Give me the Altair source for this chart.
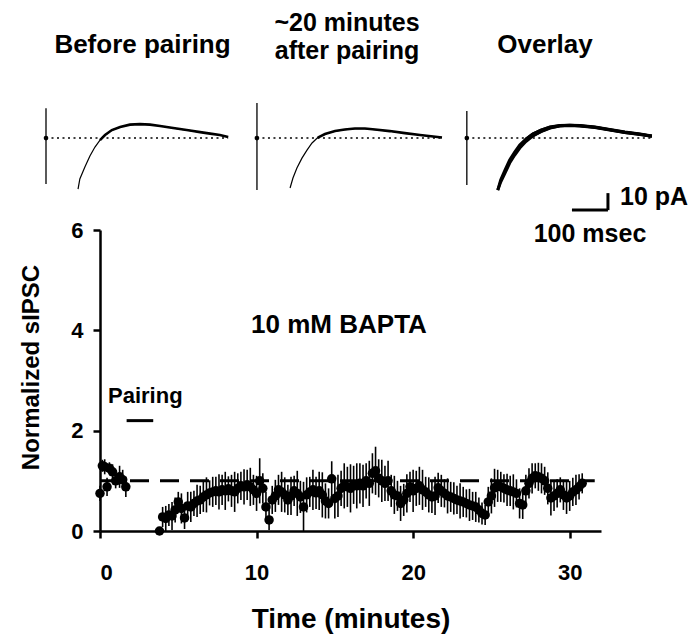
import altair as alt
import pandas as pd

FONT = "Liberation Sans"

# ---------------- summary data: time (min), normalized sIPSC, error ----------------
PRE_T = [0.0, 0.15, 0.3, 0.45, 0.6, 0.8, 1.0, 1.25, 1.45, 1.65]
PRE_V = [0.75, 1.30, 1.28, 0.88, 1.25, 1.18, 1.00, 1.08, 1.02, 0.88]
PRE_E = [0.15, 0.12, 0.15, 0.18, 0.12, 0.15, 0.15, 0.22, 0.20, 0.20]

POST_T = [
    3.8, 4.0, 4.2, 4.4, 4.6, 4.8, 5.0, 5.2, 5.4, 5.6,
    5.8, 6.0, 6.2, 6.4, 6.6, 6.8, 7.0, 7.2, 7.4, 7.6,
    7.8, 8.0, 8.2, 8.4, 8.6, 8.8, 9.0, 9.2, 9.4, 9.6,
    9.8, 10.0, 10.2, 10.4, 10.6, 10.8, 11.0, 11.2, 11.4, 11.6,
    11.8, 12.0, 12.2, 12.4, 12.6, 12.8, 13.0, 13.2, 13.4, 13.6,
    13.8, 14.0, 14.2, 14.4, 14.6, 14.8, 15.0, 15.2, 15.4, 15.6,
    15.8, 16.0, 16.2, 16.4, 16.6, 16.8, 17.0, 17.2, 17.4, 17.6,
    17.8, 18.0, 18.2, 18.4, 18.6, 18.8, 19.0, 19.2, 19.4, 19.6,
    19.8, 20.0, 20.2, 20.4, 20.6, 20.8, 21.0, 21.2, 21.4, 21.6,
    21.8, 22.0, 22.2, 22.4, 22.6, 22.8, 23.0, 23.2, 23.4, 23.6,
    23.8, 24.0, 24.2, 24.4, 24.6, 24.8, 25.0, 25.2, 25.4, 25.6,
    25.8, 26.0, 26.2, 26.4, 26.6, 26.8, 27.0, 27.2, 27.4, 27.6,
    27.8, 28.0, 28.2, 28.4, 28.6, 28.8, 29.0, 29.2, 29.4, 29.6,
    29.8, 30.0, 30.2, 30.4, 30.6, 30.8,
]
POST_V = [
    0.00, 0.28, 0.25, 0.32, 0.30, 0.42, 0.58, 0.45, 0.26, 0.50,
    0.48, 0.55, 0.60, 0.62, 0.68, 0.72, 0.76, 0.78, 0.80, 0.78,
    0.82, 0.80, 0.84, 0.80, 0.78, 0.85, 0.90, 0.88, 0.92, 0.88,
    0.82, 0.75, 1.00, 0.85, 0.48, 0.22, 0.62, 0.70, 0.82, 0.78,
    0.72, 0.62, 0.70, 0.80, 0.75, 0.68, 0.48, 0.72, 0.78, 0.82,
    0.76, 0.80, 0.72, 0.60, 0.55, 1.04, 0.65, 0.70, 0.85, 0.90,
    0.88, 0.85, 0.92, 0.90, 0.95, 0.90, 1.00, 0.95, 1.15, 1.20,
    1.05, 1.00, 0.95, 1.00, 0.80, 0.72, 0.70, 0.55, 0.62, 0.75,
    0.88, 0.80, 0.85, 0.90, 0.82, 0.78, 0.72, 0.68, 0.70, 0.86,
    0.80, 0.75, 0.70, 0.68, 0.65, 0.62, 0.60, 0.58, 0.55, 0.52,
    0.50, 0.48, 0.42, 0.35, 0.32, 0.58, 0.70, 0.86, 0.90, 0.88,
    0.85, 0.82, 0.80, 0.78, 0.75, 0.55, 0.52, 0.80, 0.95, 1.05,
    1.10, 1.08, 1.05, 1.00, 0.85, 0.66, 0.70, 0.75, 0.82, 0.72,
    0.66, 0.70, 0.78, 0.82, 0.88, 0.95,
]
POST_E = [
    0.05, 0.20, 0.25, 0.22, 0.28, 0.25, 0.20, 0.30, 0.22, 0.28,
    0.30, 0.25, 0.32, 0.28, 0.30, 0.35, 0.25, 0.30, 0.28, 0.35,
    0.30, 0.38, 0.25, 0.32, 0.40, 0.30, 0.28, 0.35, 0.30, 0.38,
    0.30, 0.35, 0.45, 0.30, 0.30, 0.20, 0.28, 0.32, 0.30, 0.40,
    0.35, 0.30, 0.38, 0.30, 0.45, 0.32, 0.50, 0.35, 0.30, 0.40,
    0.32, 0.38, 0.45, 0.35, 0.30, 0.35, 0.40, 0.42, 0.35, 0.45,
    0.40, 0.48, 0.38, 0.45, 0.40, 0.42, 0.35, 0.45, 0.40, 0.48,
    0.38, 0.42, 0.35, 0.40, 0.32, 0.38, 0.30, 0.35, 0.32, 0.38,
    0.30, 0.42, 0.35, 0.38, 0.40, 0.30, 0.35, 0.32, 0.38, 0.30,
    0.32, 0.28, 0.35, 0.30, 0.32, 0.28, 0.35, 0.30, 0.28, 0.32,
    0.28, 0.30, 0.25, 0.22, 0.20, 0.30, 0.35, 0.38, 0.32, 0.30,
    0.28, 0.32, 0.30, 0.35, 0.28, 0.30, 0.28, 0.32, 0.30, 0.30,
    0.25, 0.28, 0.30, 0.28, 0.32, 0.35, 0.30, 0.28, 0.25, 0.30,
    0.32, 0.30, 0.28, 0.30, 0.25, 0.20,
]

BASELINE_LEVEL = 1.0
BASELINE_T = [0.0, 31.6]
PAIRING_T = [1.7, 3.4]
PAIRING_LEVEL = 2.2

X_DOMAIN = [0, 32]
Y_DOMAIN = [0, 6]
X_TICKS = [0, 10, 20, 30]
Y_TICKS = [0, 2, 4, 6]

# ---------------- example sweeps: ms after stimulus, pA from baseline ----------------
BEFORE_MS = [89, 94, 108, 122, 136, 150, 164, 183, 206, 233, 261, 289, 317, 344, 372, 400, 428, 456, 483, 506]
BEFORE_PA = [-30, -24.1, -17.1, -10.6, -5.3, -1.2, 1.8, 4.7, 6.5, 7.9, 8.2, 7.9, 7.1, 6.2, 5.3, 4.4, 3.5, 2.6, 1.8, 0.6]
AFTER_MS = [92, 100, 111, 125, 139, 153, 169, 189, 217, 244, 272, 300, 328, 369, 411, 453, 514]
AFTER_PA = [-29.4, -23.5, -17.6, -11.8, -7.1, -2.9, 0.3, 2.4, 4.1, 5.0, 5.6, 5.6, 5.0, 4.1, 2.9, 1.8, 0.3]
OVERLAY_MS = [86, 94, 106, 119, 133, 147, 164, 183, 206, 231, 258, 286, 314, 356, 397, 439, 481, 514]
OVERLAY_BEFORE_PA = [-30.6, -24.7, -18.8, -12.9, -8.2, -4.1, -0.6, 2.4, 4.7, 6.5, 7.4, 7.6, 7.4, 6.5, 5.0, 3.5, 2.4, 1.2]
OVERLAY_AFTER_PA = [-30.6, -25.9, -20.6, -14.7, -10.0, -5.9, -2.0, 1.2, 3.8, 5.9, 7.1, 7.4, 7.1, 6.2, 4.7, 3.2, 2.1, 1.0]
ARTIFACT_TOP_PA = [17.6, 20.6, 15.9]
ARTIFACT_BOTTOM_PA = [-27.0, -30.6, -27.6]
SWEEP_END_MS = [506, 514, 514]
SCALE_MS = 100
SCALE_PA = 10

# ---------------- layout constants ----------------
PLOT_W, PLOT_H = 501, 301
PAD = {"left": 100, "top": 230, "right": 94, "bottom": 108}
PANEL_OFFSET_MS = [0, 586, 1169]
TRACE_X_DOMAIN = [150, 1541.7]
TRACE_Y_DOMAIN = [-231.2, -54.1]
SCALEBAR_ORIGIN = (1461, -42.4)

# ---------------- tables ----------------
summary = pd.DataFrame({"t": PRE_T + POST_T, "v": PRE_V + POST_V, "e": PRE_E + POST_E})
summary["lo"] = summary["v"] - summary["e"]
summary["hi"] = summary["v"] + summary["e"]

baseline_df = pd.DataFrame({"t0": [BASELINE_T[0]], "t1": [BASELINE_T[1]], "v": [BASELINE_LEVEL]})
pairing_df = pd.DataFrame({"t0": [PAIRING_T[0]], "t1": [PAIRING_T[1]], "v": [PAIRING_LEVEL]})

rows = []
def add_sweep(panel, name, ms, pa):
    for i, (m, p) in enumerate(zip(ms, pa)):
        rows.append({"u": m + PANEL_OFFSET_MS[panel], "pA": p, "sweep": name, "i": i})

add_sweep(0, "before", BEFORE_MS, BEFORE_PA)
add_sweep(1, "after", AFTER_MS, AFTER_PA)
add_sweep(2, "ovl_before", OVERLAY_MS, OVERLAY_BEFORE_PA)
add_sweep(2, "ovl_after", OVERLAY_MS, OVERLAY_AFTER_PA)
sweeps = pd.DataFrame(rows)

panels = pd.DataFrame({
    "u0": PANEL_OFFSET_MS,
    "u1": [o + e for o, e in zip(PANEL_OFFSET_MS, SWEEP_END_MS)],
    "top": ARTIFACT_TOP_PA,
    "bottom": ARTIFACT_BOTTOM_PA,
    "zero": [0, 0, 0],
})

sx, sy = SCALEBAR_ORIGIN
scalebar = pd.DataFrame({
    "u0": [sx, sx + SCALE_MS],
    "u1": [sx + SCALE_MS, sx + SCALE_MS],
    "p0": [sy, sy],
    "p1": [sy, sy + SCALE_PA],
})

# ---------------- encodings ----------------
x_axis = alt.Axis(values=X_TICKS, format="d", title="Time (minutes)", labelPadding=24,
                  titleY=96, titleBaseline="alphabetic", titleFontSize=28)
y_axis = alt.Axis(values=Y_TICKS, format="d", title="Normalized sIPSC", labelPadding=10,
                  titleX=-62, titleY=137, titleAngle=270, titleBaseline="alphabetic",
                  titleAlign="center", titleFontSize=24)
x_scale = alt.Scale(domain=X_DOMAIN, nice=False, zero=False)
y_scale = alt.Scale(domain=Y_DOMAIN, nice=False, zero=False)

def MX(f):
    return alt.X(f, type="quantitative", scale=x_scale, axis=x_axis)

def MY(f):
    return alt.Y(f, type="quantitative", scale=y_scale, axis=y_axis)

tx_scale = alt.Scale(domain=TRACE_X_DOMAIN, nice=False, zero=False)
ty_scale = alt.Scale(domain=TRACE_Y_DOMAIN, nice=False, zero=False)

def TX(f):
    return alt.X(f, type="quantitative", scale=tx_scale, axis=None)

def TY(f):
    return alt.Y(f, type="quantitative", scale=ty_scale, axis=None)

# ---------------- main panel ----------------
dash = alt.Chart(baseline_df).mark_rule(color="black", strokeWidth=3, strokeDash=[19, 11]).encode(
    x=MX("t0"), x2="t1", y=MY("v"))
pair = alt.Chart(pairing_df).mark_rule(color="black", strokeWidth=3).encode(
    x=MX("t0"), x2="t1", y=MY("v"))
err = alt.Chart(summary).mark_rule(color="black", strokeWidth=1.6).encode(
    x=MX("t"), y=MY("lo"), y2="hi")
pts = alt.Chart(summary).mark_circle(color="black", size=90, opacity=1).encode(
    x=MX("t"), y=MY("v"))

def label(text, x, y, size, align="center"):
    return alt.Chart(baseline_df).mark_text(
        font=FONT, fontWeight="bold", fontSize=size, color="black", align=align, baseline="alphabetic"
    ).encode(x=alt.value(x), y=alt.value(y), text=alt.value(text))

main = alt.layer(dash, pair, err, pts,
                 label("10 mM BAPTA", 239, 103, 26),
                 label("Pairing", 8, 173, 22, "left"))

# ---------------- sweeps ----------------
zero_lines = alt.Chart(panels).mark_rule(color="black", strokeWidth=1.5, strokeDash=[2, 3.5]).encode(
    x=TX("u0"), x2="u1", y=TY("zero"))
artifacts = alt.Chart(panels).mark_rule(color="black", strokeWidth=1.3).encode(
    x=TX("u0"), y=TY("top"), y2="bottom")
art_dots = alt.Chart(panels).mark_point(color="black", filled=True, size=22, opacity=1).encode(
    x=TX("u0"), y=TY("zero"))
thin = alt.Chart(sweeps).mark_line(color="black", strokeWidth=1.2).encode(
    x=TX("u"), y=TY("pA"), detail="sweep:N", order="i:Q")
thick = alt.Chart(sweeps).transform_filter("datum.pA >= -1.5").mark_line(color="black", strokeWidth=2.6).encode(
    x=TX("u"), y=TY("pA"), detail="sweep:N", order="i:Q")
ovl = alt.Chart(sweeps).transform_filter("datum.sweep == 'ovl_before' || datum.sweep == 'ovl_after'").mark_line(
    color="black", strokeWidth=3).encode(x=TX("u"), y=TY("pA"), detail="sweep:N", order="i:Q")
sbar = alt.Chart(scalebar).mark_rule(color="black", strokeWidth=3).encode(
    x=TX("u0"), x2="u1", y=TY("p0"), y2="p1")

traces = alt.layer(zero_lines, artifacts, art_dots, thin, thick, ovl, sbar,
                   label("Before pairing", 42.5, -177, 26),
                   label("~20 minutes", 247, -199, 25),
                   label("after pairing", 247, -171, 25),
                   label("Overlay", 445, -177, 26),
                   label("10 pA", 520, -25, 25, "left"),
                   label("100 msec", 490, 12, 25))

chart = alt.layer(main, traces).resolve_scale(x="independent", y="independent").properties(
    width=PLOT_W, height=PLOT_H, padding=PAD, autosize=alt.AutoSizeParams(type="none"),
    background="white"
).configure_axis(
    labelFont=FONT, labelFontSize=22, labelFontWeight="bold", labelColor="black",
    titleFont=FONT, titleFontWeight="bold", titleColor="black",
    domainColor="black", tickColor="black", domainWidth=2.5, tickWidth=2.5, tickSize=7, grid=False
).configure_view(stroke=None)

chart.save("out.html", embed_options={"renderer": "svg", "actions": False})
